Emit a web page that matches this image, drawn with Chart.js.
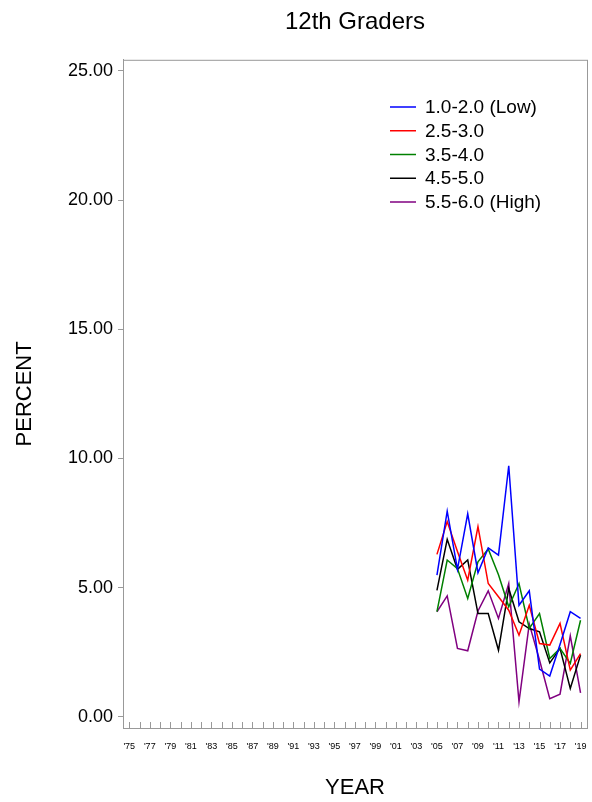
<!DOCTYPE html>
<html><head><meta charset="utf-8">
<script src="https://cdn.jsdelivr.net/npm/chart.js@4.4.1/dist/chart.umd.min.js"></script>
<style>html,body{margin:0;padding:0;background:#fff;}canvas{display:block;}</style>
</head><body>
<canvas id="c" width="592" height="802"></canvas>
<script>
const years = [2005,2006,2007,2008,2009,2010,2011,2012,2013,2014,2015,2016,2017,2018,2019];
const seriesLabels = ['1.0-2.0 (Low)','2.5-3.0','3.5-4.0','4.5-5.0','5.5-6.0 (High)'];
const low    = [5.49,7.96,5.71,7.86,5.58,6.54,6.26,9.72,4.32,4.88,1.85,1.58,2.80,4.07,3.81];
const mid1   = [6.29,7.56,6.40,5.29,7.36,5.16,4.65,4.13,3.16,4.32,2.84,2.78,3.62,1.81,2.45];
const mid2   = [4.07,6.07,5.74,4.58,6.00,6.50,5.50,4.26,5.16,3.42,4.00,2.26,2.65,2.07,3.74];
const mid3   = [4.90,6.87,5.71,6.07,4.00,4.00,2.58,4.97,3.68,3.42,3.29,2.09,2.65,1.10,2.39];
const high   = [4.07,4.68,2.65,2.56,4.10,4.88,3.81,5.16,0.58,3.60,2.20,0.70,0.88,3.14,0.93];
const tickYears = []; for (let y = 1975; y <= 2019; y++) tickYears.push(y);
const yTicks = [0,5,10,15,20,25];
const colors = ['#0000ff','#ff0000','#008000','#000000','#800080'];
const FONT = "'Liberation Sans', Arial, sans-serif";

const seriesValues = [low, mid1, mid2, mid3, high];
const datasets = seriesValues.map((vals, i) => ({
  label: seriesLabels[i],
  data: years.map((yr, j) => ({x: yr, y: vals[j]})),
  borderColor: colors[i], backgroundColor: colors[i],
  borderWidth: 1.5, pointRadius: 0, tension: 0, fill: false
}));

const innerTicks = {
  id: 'innerTicks',
  afterDraw(chart) {
    const ctx = chart.ctx, xs = chart.scales.x, a = chart.chartArea;
    ctx.save();
    ctx.strokeStyle = '#999'; ctx.lineWidth = 1;
    ctx.beginPath();
    xs.ticks.forEach(t => {
      const px = Math.round(xs.getPixelForValue(t.value)) + 0.5;
      ctx.moveTo(px, a.bottom); ctx.lineTo(px, a.bottom - 6);
    });
    ctx.stroke();
    ctx.restore();
  }
};
const boxLegend = {
  id: 'boxLegend',
  afterDraw(chart) {
    const ctx = chart.ctx;
    ctx.save();
    ctx.font = "19px " + FONT; ctx.textBaseline = 'middle'; ctx.fillStyle = '#000';
    chart.data.datasets.forEach((ds, i) => {
      const y = 107 + i * 23.75;
      ctx.strokeStyle = ds.borderColor; ctx.lineWidth = 1.5;
      ctx.beginPath(); ctx.moveTo(390, y); ctx.lineTo(416, y); ctx.stroke();
      ctx.fillText(ds.label, 425, y + 1);
    });
    ctx.restore();
  }
};

new Chart(document.getElementById('c'), {
  type: 'line',
  data: { datasets },
  options: {
    responsive: false, animation: false,
    layout: { padding: { left: 0, right: 5, top: 0, bottom: 0 } },
    plugins: {
      legend: { display: false },
      tooltip: { enabled: false },
      title: { display: true, text: '12th Graders', fullSize: false, color: '#000',
               font: { family: FONT, size: 24, weight: 'normal', lineHeight: 1.2 }, padding: { top: 8, bottom: 23 } }
    },
    scales: {
      x: {
        type: 'linear', min: 1974.39, max: 2019.63,
        afterBuildTicks: s => { s.ticks = tickYears.map(v => ({ value: v })); },
        afterFit: s => { s.height = 74; s.paddingLeft = 0; s.paddingRight = 0; },
        grid: { display: true, drawOnChartArea: false, drawTicks: false },
        border: { display: true, color: '#999' },
        ticks: { autoSkip: false, maxRotation: 0, minRotation: 0, padding: 13, color: '#000',
                 font: { family: FONT, size: 9 },
                 callback: v => (v % 2 === 1) ? "'" + String(v).slice(2) : '' },
        title: { display: true, text: 'YEAR', color: '#000', font: { family: FONT, size: 22 }, padding: { top: 0, bottom: 1 } }
      },
      y: {
        min: -0.43, max: 25.43,
        afterBuildTicks: s => { s.ticks = yTicks.map(v => ({ value: v })); },
        afterFit: s => { s.width = 123; },
        grid: { display: true, drawOnChartArea: false, drawTicks: true, tickLength: 5, color: '#999' },
        border: { display: true, color: '#999' },
        ticks: { padding: 5, color: '#000', font: { family: FONT, size: 18 }, callback: v => v.toFixed(2) },
        title: { display: true, text: 'PERCENT', color: '#000', font: { family: FONT, size: 22 }, padding: { top: 12, bottom: 0 } }
      }
    }
  },
  plugins: [innerTicks, boxLegend,
    { id: 'boxBorder', afterDraw(chart) {
        const c = chart.ctx, a = chart.chartArea;
        c.save(); c.strokeStyle = '#999'; c.lineWidth = 1;
        c.strokeRect(a.left + 0.5, a.top + 0.5, a.right - a.left, a.bottom - a.top);
        c.restore(); } }]
});
</script>
</body></html>
